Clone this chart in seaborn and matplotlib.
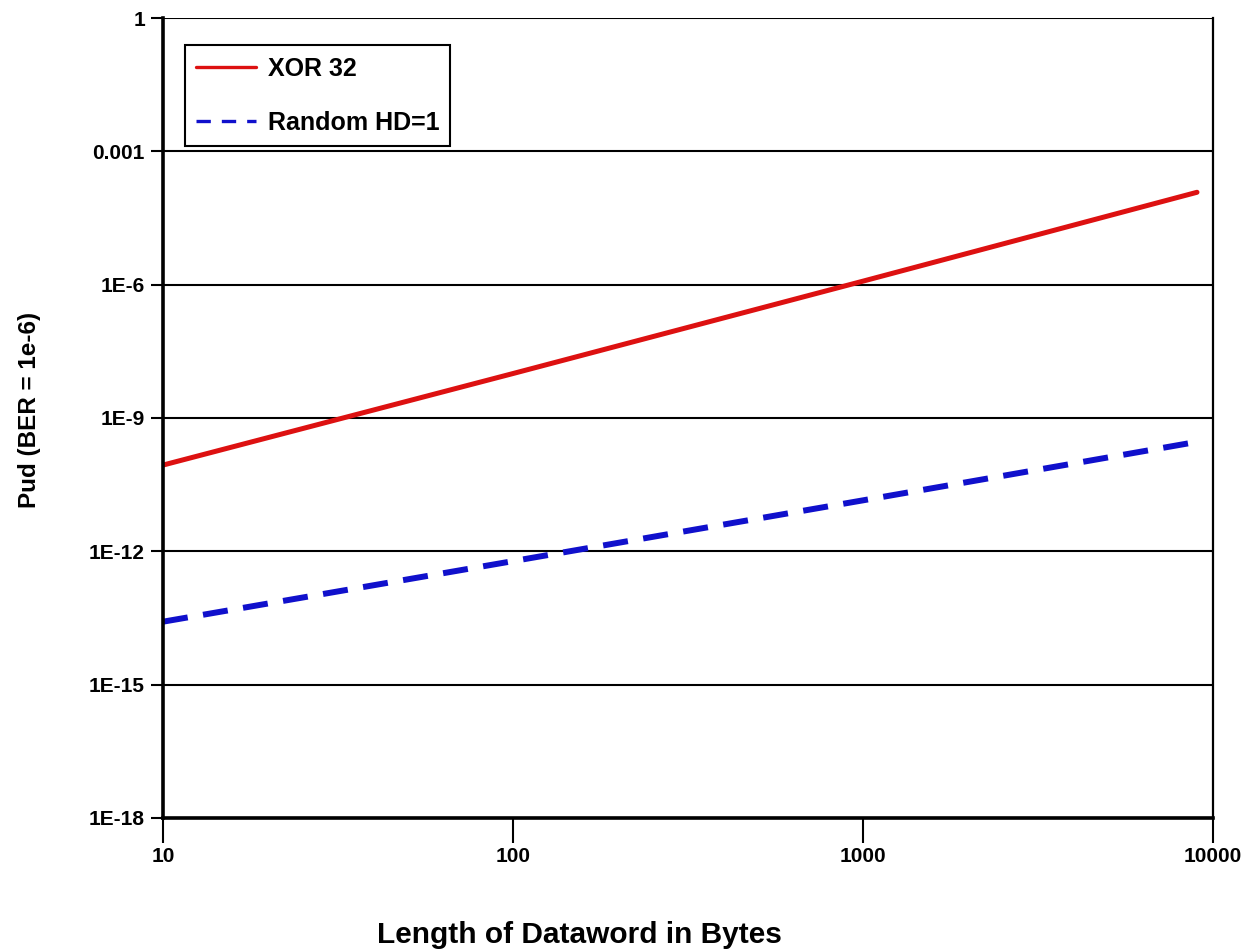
import matplotlib
matplotlib.use("Agg")
import matplotlib.pyplot as plt
import seaborn as sns
import pandas as pd
from matplotlib.ticker import FixedLocator, FixedFormatter, NullLocator

# Data
lengths = [10, 100, 1000, 9000]
xor32 = [8.7e-11, 1.0e-8, 1.2e-6, 1.2e-4]
random_hd1 = [2.6e-14, 6.0e-13, 1.4e-11, 2.9e-10]

y_tick_values = [1, 1e-3, 1e-6, 1e-9, 1e-12, 1e-15, 1e-18]
y_tick_labels = ["1", "0.001", "1E-6", "1E-9", "1E-12", "1E-15", "1E-18"]
x_tick_values = [10, 100, 1000, 10000]
x_tick_labels = ["10", "100", "1000", "10000"]

sns.set_style("white")
plt.rcParams["font.family"] = ["Liberation Sans", "DejaVu Sans"]
plt.rcParams["font.weight"] = "bold"
plt.rcParams["text.color"] = "black"
plt.rcParams["axes.labelcolor"] = "black"
plt.rcParams["xtick.color"] = "black"
plt.rcParams["ytick.color"] = "black"

df_xor = pd.DataFrame({"x": lengths, "y": xor32})
df_rnd = pd.DataFrame({"x": lengths, "y": random_hd1})

fig = plt.figure(figsize=(12.5, 9.51), dpi=100)
ax = fig.add_axes([0.1304, 0.140, 0.840, 0.841])

sns.lineplot(data=df_xor, x="x", y="y", ax=ax, color="#DD1111", lw=3.6,
             label="XOR 32")
sns.lineplot(data=df_rnd, x="x", y="y", ax=ax, color="#1010CC", lw=4.3,
             label="Random HD=1")
ax.lines[1].set_dashes([4.2, 2.6])

ax.set_xscale("log")
ax.set_yscale("log")
ax.set_xlim(10, 10000)
ax.set_ylim(1e-18, 1)

ax.yaxis.set_major_locator(FixedLocator(y_tick_values))
ax.yaxis.set_major_formatter(FixedFormatter(y_tick_labels))
ax.yaxis.set_minor_locator(NullLocator())
ax.xaxis.set_major_locator(FixedLocator(x_tick_values))
ax.xaxis.set_major_formatter(FixedFormatter(x_tick_labels))
ax.xaxis.set_minor_locator(NullLocator())

ax.yaxis.grid(True, color="black", lw=1.5)
ax.xaxis.grid(False)

for s in ["left", "bottom"]:
    ax.spines[s].set_linewidth(2.6)
    ax.spines[s].set_color("black")
ax.spines["right"].set_linewidth(1.6)
ax.spines["right"].set_color("black")
ax.spines["top"].set_visible(False)

ax.tick_params(axis="y", which="major", direction="out", length=9, width=1.5,
               color="black", labelcolor="black", labelsize=15, pad=4, left=True)
ax.tick_params(axis="x", which="major", direction="out", length=18, width=1.5,
               color="black", labelcolor="black", labelsize=15, pad=3, bottom=True)
for lbl in ax.get_xticklabels() + ax.get_yticklabels():
    lbl.set_fontweight("bold")

ax.set_xlabel("Length of Dataword in Bytes", fontsize=21.5, fontweight="bold",
              color="black")
ax.set_ylabel("Pud (BER = 1e-6)", fontsize=17.5, fontweight="bold",
              color="black")
ax.xaxis.set_label_coords(0.397, -0.146)
ax.yaxis.set_label_coords(-0.127, 0.51)
ax.xaxis.label.set_va("center")
ax.yaxis.label.set_va("center")

leg = ax.legend(loc="upper left", bbox_to_anchor=(0.021, 0.966),
                frameon=True, fancybox=False, edgecolor="black",
                framealpha=1, fontsize=18, labelspacing=1.2,
                handlelength=2.4, handletextpad=0.45, borderpad=0.45,
                borderaxespad=0)
leg.get_frame().set_linewidth(1.5)
for t in leg.get_texts():
    t.set_fontweight("bold")
    t.set_color("black")
handles = leg.get_lines()
handles[0].set_linewidth(2.4)
handles[1].set_linewidth(2.4)
handles[1].set_dashes([4.3, 3.3])

fig.savefig("out.png", dpi=100)
